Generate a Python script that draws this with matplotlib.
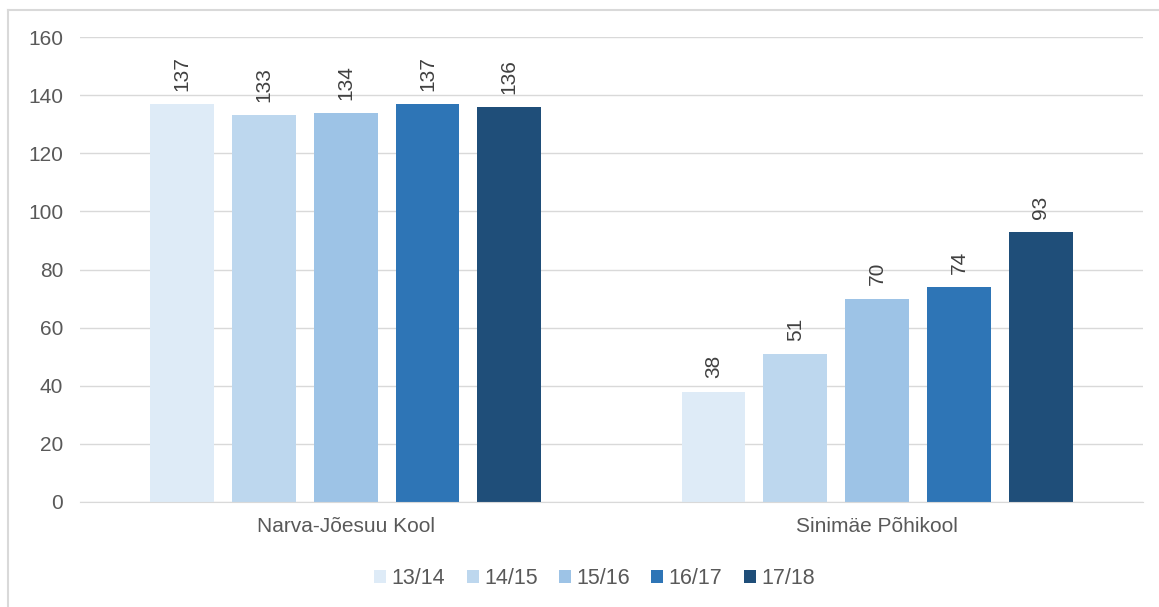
import matplotlib.pyplot as plt
import numpy as np
from matplotlib.lines import Line2D

# data
schools = ['Narva-Jõesuu Kool', 'Sinimäe Põhikool']
years = ['13/14', '14/15', '15/16', '16/17', '17/18']
v_1314 = [137, 38]
v_1415 = [133, 51]
v_1516 = [134, 70]
v_1617 = [137, 74]
v_1718 = [136, 93]
series = [v_1314, v_1415, v_1516, v_1617, v_1718]
colors = ['#DEEBF7', '#BDD7EE', '#9DC3E6', '#2E75B6', '#1F4E79']

plt.rcParams['font.family'] = ['Liberation Sans', 'DejaVu Sans']

fig = plt.figure(figsize=(11.59, 6.07), dpi=100)
ax = fig.add_axes([0.069, 0.173, 0.917, 0.766])

x = np.arange(len(schools))
w = 0.12
step = 0.154
for i, (vals, c) in enumerate(zip(series, colors)):
    pos = x + (i - 2) * step
    bars = ax.bar(pos, vals, width=w, color=c, label=years[i], zorder=2)
    for b, v in zip(bars, vals):
        ax.text(b.get_x() + b.get_width() / 2, v + 4.5, str(v), rotation=90,
                ha='center', va='bottom', fontsize=15, color='#404040')

ax.set_xlim(-0.5, 1.5)
ax.set_ylim(0, 160)
ax.set_yticks(range(0, 161, 20))
ax.set_xticks(x)
ax.set_xticklabels(schools)
ax.tick_params(axis='both', length=0, labelsize=15, labelcolor='#595959')
ax.tick_params(axis='x', pad=11)
ax.tick_params(axis='y', pad=12)
ax.grid(axis='y', color='#D9D9D9', linewidth=1, zorder=0)
for s in ['top', 'right', 'left']:
    ax.spines[s].set_visible(False)
ax.spines['bottom'].set_color('#D9D9D9')

leg = fig.legend(loc='center', bbox_to_anchor=(0.513, 0.047), ncol=5, frameon=False,
                 fontsize=15.5, handlelength=0.55, handleheight=0.55,
                 handletextpad=0.25, columnspacing=1.0)
for t in leg.get_texts():
    t.set_color('#595959')

# outer chart border (only top and left edges visible)
fig.add_artist(Line2D([0.007, 0.007], [0.0, 0.984], transform=fig.transFigure,
                      color='#D9D9D9', linewidth=1.5))
fig.add_artist(Line2D([0.007, 1.0], [0.984, 0.984], transform=fig.transFigure,
                      color='#D9D9D9', linewidth=1.5))

plt.savefig('out.png', dpi=100)
